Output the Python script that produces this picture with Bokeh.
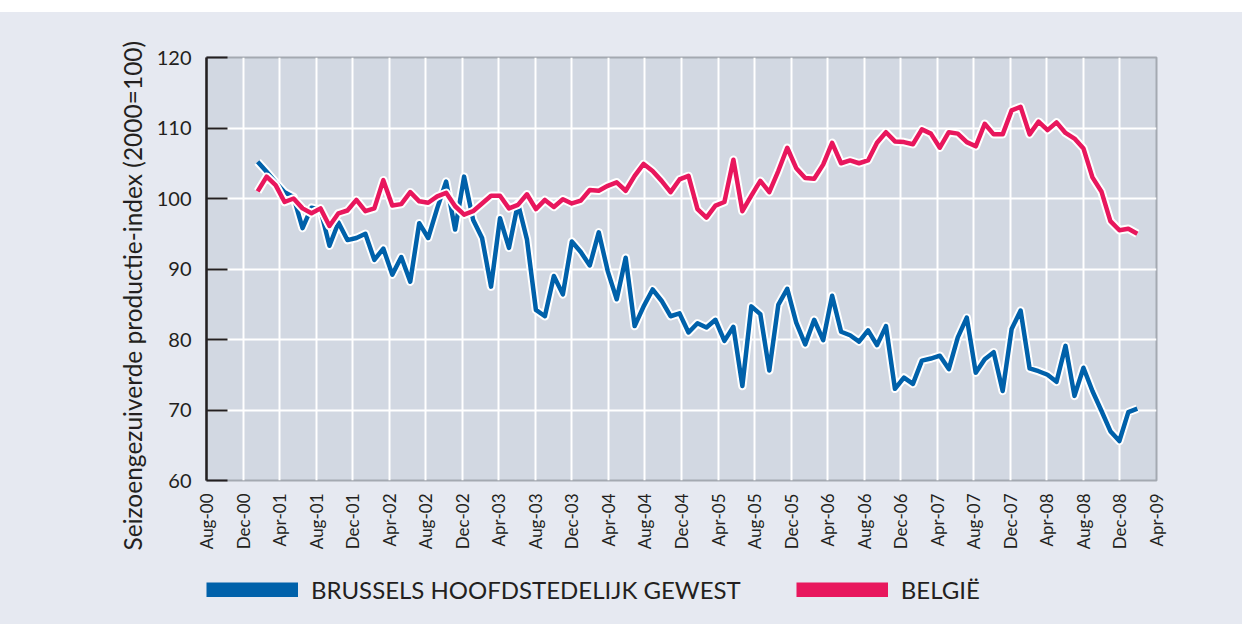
import numpy as np
from math import pi
from bokeh.plotting import figure
from bokeh.layouts import column
from bokeh.models import (Range1d, FixedTicker, Legend, LegendItem, Title,
                          ColumnDataSource, Spacer)
from bokeh.embed import file_html
from bokeh.resources import INLINE

# ---------------- data ----------------
tick_labels = ["Aug-00", "Dec-00", "Apr-01", "Aug-01", "Dec-01", "Apr-02", "Aug-02",
               "Dec-02", "Apr-03", "Aug-03", "Dec-03", "Apr-04", "Aug-04", "Dec-04",
               "Apr-05", "Aug-05", "Dec-05", "Apr-06", "Aug-06", "Dec-06", "Apr-07",
               "Aug-07", "Dec-07", "Apr-08", "Aug-08", "Dec-08", "Apr-09"]
tick_months = list(range(0, 105, 4))          # months since Aug-00
y_ticks = [60, 70, 80, 90, 100, 110, 120]

brussels = [105.2, 103.8, 102.3, 100.9, 100.2, 95.8, 98.7, 98.4, 93.3, 96.6,
            94.1, 94.4, 95.0, 91.3, 92.9, 89.2, 91.7, 88.2, 96.5, 94.4,
            98.6, 102.4, 95.6, 103.1, 97.0, 94.4, 87.5, 97.2, 93.0, 99.3,
            94.2, 84.2, 83.3, 89.0, 86.4, 93.9, 92.4, 90.5, 95.2, 89.7,
            85.7, 91.6, 81.9, 84.7, 87.1, 85.5, 83.3, 83.7, 81.0, 82.3,
            81.7, 82.8, 79.8, 81.8, 73.4, 84.7, 83.6, 75.6, 84.9, 87.2,
            82.4, 79.3, 82.8, 79.9, 86.2, 81.1, 80.6, 79.7, 81.3, 79.2,
            81.9, 73.0, 74.6, 73.7, 77.0, 77.3, 77.7, 75.8, 80.3, 83.1,
            75.3, 77.2, 78.2, 72.7, 81.5, 84.1, 75.9, 75.5, 75.0, 74.0,
            79.1, 72.0, 76.0, 72.7, 69.9, 67.0, 65.6, 69.7, 70.2]

belgie = [101.0, 103.1, 101.9, 99.5, 100.0, 98.6, 97.9, 98.6, 96.1, 97.9,
          98.3, 99.8, 98.2, 98.6, 102.6, 99.0, 99.2, 100.9, 99.6, 99.4,
          100.3, 100.8, 98.9, 97.7, 98.2, 99.3, 100.4, 100.4, 98.6, 99.1,
          100.6, 98.5, 99.8, 98.8, 99.9, 99.3, 99.7, 101.2, 101.1, 101.8,
          102.3, 101.1, 103.2, 104.9, 103.9, 102.5, 100.9, 102.7, 103.2, 98.5,
          97.3, 99.0, 99.5, 105.5, 98.2, 100.4, 102.5, 100.9, 103.9, 107.2,
          104.3, 102.9, 102.8, 104.8, 107.9, 105.0, 105.4, 105.0, 105.4, 107.9,
          109.4, 108.1, 108.0, 107.7, 109.8, 109.2, 107.2, 109.4, 109.2, 108.0,
          107.4, 110.6, 109.1, 109.1, 112.5, 113.0, 109.1, 110.9, 109.7, 110.8,
          109.3, 108.5, 107.1, 103.0, 101.0, 96.8, 95.5, 95.7, 95.0]

series_names = ["BRUSSELS HOOFDSTEDELIJK GEWEST", "BELGIË"]
series_cols = ["brussels", "belgie"]
series_colors = ["#0061aa", "#e8175d"]
y_title = "Seizoengezuiverde productie-index (2000=100)"

# first / last observation position (months since Aug-00)
first_obs, last_obs = 5.6, 101.9
x = np.linspace(first_obs, last_obs, len(brussels))
src = ColumnDataSource(dict(x=x, brussels=brussels, belgie=belgie))

TXT = "#231f20"
FONT = "Lato"
PANEL = "#e6e9f1"

p = figure(frame_width=950, frame_height=423,
           min_border_left=206, min_border_right=86,
           min_border_top=45, min_border_bottom=80,
           x_range=Range1d(0, 104), y_range=Range1d(60, 120),
           output_backend="svg", toolbar_location=None,
           background_fill_color="#d2d8e2", border_fill_color=None)

p.outline_line_color = "#a4a9b1"
p.outline_line_width = 2

# grid
p.xgrid.ticker = FixedTicker(ticks=tick_months)
p.ygrid.ticker = FixedTicker(ticks=y_ticks)
for g in (p.xgrid, p.ygrid):
    g.grid_line_color = "white"
    g.grid_line_width = 2

# y axis
p.yaxis.ticker = FixedTicker(ticks=y_ticks)
p.yaxis.axis_line_color = TXT
p.yaxis.axis_line_width = 2.5
p.yaxis.major_tick_in = 21
p.yaxis.major_tick_out = 0
p.yaxis.major_tick_line_color = TXT
p.yaxis.major_tick_line_width = 2
p.yaxis.minor_tick_line_color = None
p.yaxis.major_label_text_font = FONT
p.yaxis.major_label_text_font_size = "20px"
p.yaxis.major_label_text_color = TXT
p.yaxis.major_label_standoff = 15

# x axis
p.xaxis.ticker = FixedTicker(ticks=tick_months)
p.xaxis.major_label_overrides = {m: lab for m, lab in zip(tick_months, tick_labels)}
p.xaxis.major_label_orientation = pi / 2
p.xaxis.axis_line_color = None
p.xaxis.major_tick_line_color = None
p.xaxis.minor_tick_line_color = None
p.xaxis.major_label_text_font = FONT
p.xaxis.major_label_text_font_size = "17px"
p.xaxis.major_label_text_color = TXT
p.xaxis.major_label_standoff = 7

# y-axis title (side title so it can sit off-centre like the reference)
p.add_layout(Title(text=y_title, align="left", offset=-70, standoff=14,
                   text_font=FONT, text_font_size="24.5px", text_font_style="normal",
                   text_color=TXT), "left")

# series with white halo
for col, color in zip(series_cols, series_colors):
    p.line("x", col, source=src, line_color="white", line_width=8.5, line_join="round")
    p.line("x", col, source=src, line_color=color, line_width=4.5, line_join="round")

# legend in its own strip below the chart (series drawn out of view, only swatches show)
lg = figure(frame_width=950, frame_height=64,
            min_border_left=206, min_border_right=86, min_border_top=0, min_border_bottom=0,
            output_backend="svg", toolbar_location=None,
            x_range=Range1d(0, 1), y_range=Range1d(0, 1),
            background_fill_color=None, border_fill_color=None)
lg.axis.visible = False
lg.grid.visible = False
lg.outline_line_color = None
items = []
for name, col, color in zip(series_names, series_cols, series_colors):
    r = lg.line("x", col, source=src, line_color=color, line_width=15, line_cap="butt")
    items.append(LegendItem(label=name, renderers=[r]))
legend = Legend(items=items, orientation="horizontal", location=(0, 20),
                glyph_width=92, glyph_height=15, label_height=24,
                label_standoff=13, spacing=55, padding=0, margin=0,
                background_fill_alpha=0, border_line_color=None,
                label_text_font=FONT, label_text_font_size="24px",
                label_text_color=TXT)
lg.add_layout(legend, "center")

layout = column(Spacer(width=1242, height=12),
                column(p, lg, spacing=0, styles={"background-color": PANEL}),
                spacing=0)

open("out.html", "w").write(file_html(layout, INLINE))
